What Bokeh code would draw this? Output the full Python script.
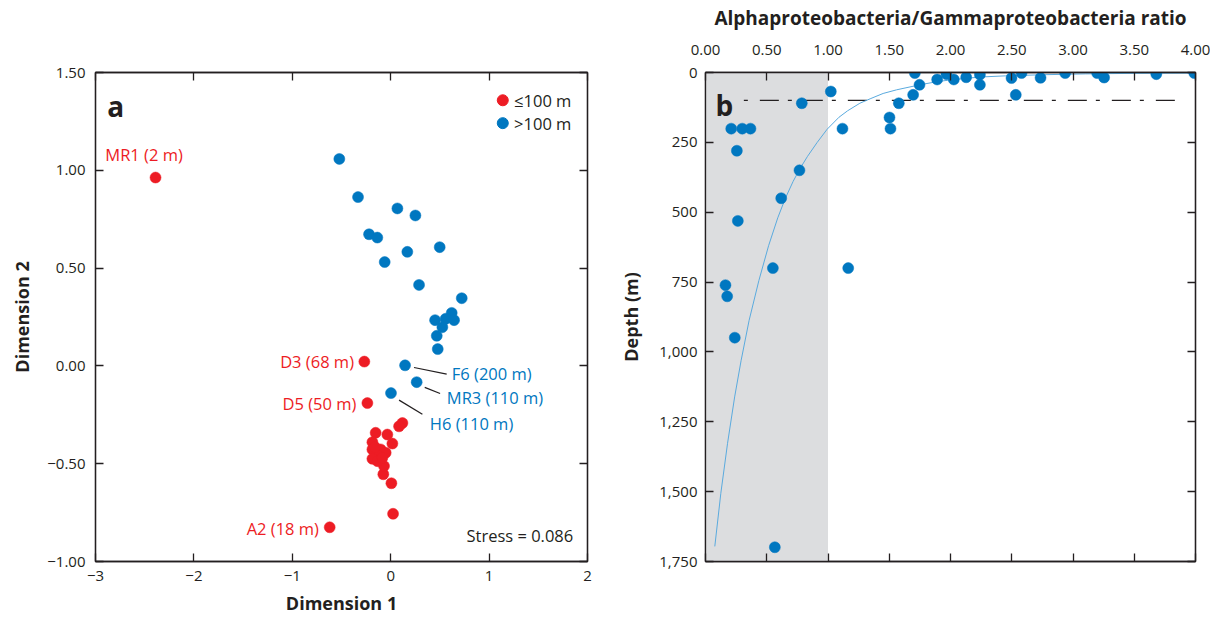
from bokeh.plotting import figure
from bokeh.models import Range1d, LinearAxis, FixedTicker, BoxAnnotation
from bokeh.layouts import row
from bokeh.embed import file_html
from bokeh.resources import INLINE
from bokeh.core.properties import value

FONT = "Open Sans"
RED = "#ed1c24"
BLUE = "#0077c0"
INK = "#231f20"
FIT = "#5aaade"
SHADE = "#dcdddf"

# ---------------- Panel a: NMDS ordination ----------------
shallow_dim1 = [-2.39, -0.268, -0.237, -0.62, 0.024, 0.007, -0.075, -0.068, 0.119, 0.085,
                -0.153, -0.034, 0.017, -0.186, -0.186, -0.102, -0.051, -0.119, -0.186,
                -0.135, -0.085, -0.160]
shallow_dim2 = [0.963, 0.022, -0.19, -0.825, -0.756, -0.600, -0.554, -0.512, -0.292, -0.309,
                -0.342, -0.351, -0.397, -0.390, -0.427, -0.427, -0.444, -0.461, -0.475,
                -0.487, -0.470, -0.415]
deep_dim1 = [-0.522, -0.332, 0.068, 0.251, -0.22, -0.136, 0.498, 0.169, -0.061, 0.288,
             0.722, 0.62, 0.559, 0.644, 0.451, 0.525, 0.468, 0.478, 0.146, 0.264, 0.003]
deep_dim2 = [1.058, 0.863, 0.805, 0.769, 0.673, 0.656, 0.607, 0.583, 0.531, 0.414,
             0.346, 0.271, 0.241, 0.234, 0.234, 0.198, 0.154, 0.086, 0.003, -0.083, -0.139]

red_lab_text = ["D3 (68 m)", "D5 (50 m)", "A2 (18 m)"]
red_lab_x = [-0.373, -0.349, -0.729]
red_lab_y = [0.024, -0.19, -0.829]
mr1_text = ["MR1 (2 m)"]
mr1_x = [-2.90]
mr1_y = [1.082]
blue_lab_text = ["F6 (200 m)", "MR3 (110 m)", "H6 (110 m)"]
blue_lab_x = [0.621, 0.570, 0.397]
blue_lab_y = [-0.041, -0.163, -0.292]
lead_x0 = [0.237, 0.346, 0.085]
lead_y0 = [-0.008, -0.110, -0.175]
lead_x1 = [0.569, 0.502, 0.322]
lead_y1 = [-0.042, -0.141, -0.247]

a_xticks = [-3, -2, -1, 0, 1, 2]
a_xlabels = ["\u22123", "\u22122", "\u22121", "0", "1", "2"]
a_yticks = [-1.0, -0.5, 0.0, 0.5, 1.0, 1.5]
a_ylabels = ["\u22121.00", "\u22120.50", "0.00", "0.50", "1.00", "1.50"]

# ---------------- Panel b: ratio vs depth ----------------
ratio = [0.21, 0.30, 0.367, 0.256, 0.264, 0.163, 0.177, 0.239, 0.566, 0.55, 0.618, 0.767,
         0.786, 1.023, 1.118, 1.165, 1.502, 1.51, 1.578, 1.695, 1.709, 1.747, 1.891, 1.967,
         2.027, 2.128, 2.24, 2.24, 2.498, 2.533, 2.58, 2.735, 2.936, 3.197, 3.254, 3.68, 3.99]
depth = [201, 201, 201, 280, 531, 761, 801, 949, 1699, 700, 450, 350,
         110, 68, 201, 700, 161, 201, 110, 80, 2, 44, 25, 6,
         25, 17, 8, 44, 20, 80, 2, 19, 2, 2, 18, 6, 2]
fit_ratio = [0.076, 0.125, 0.180, 0.238, 0.291, 0.356, 0.436, 0.515, 0.590, 0.652, 0.715,
             0.770, 0.833, 0.912, 0.993, 1.09, 1.16, 1.26, 1.35, 1.45, 1.56, 1.75, 1.90,
             2.05, 2.25, 2.45, 2.75, 3.10, 3.50, 3.99]
fit_depth = [1696, 1506, 1327, 1161, 1030, 887, 744, 620, 520, 450, 390,
             345, 300, 250, 203, 160, 137, 110, 93, 75, 62, 44, 32,
             24, 16, 12, 8, 5, 3, 2]
shade_ratio = [0.0, 1.0]
cutoff_ratio = [0.313, 3.90]
cutoff_depth = [100, 100]

b_xticks = [0, 0.5, 1, 1.5, 2, 2.5, 3, 3.5, 4]
b_xlabels = ["0.00", "0.50", "1.00", "1.50", "2.00", "2.50", "3.00", "3.50", "4.00"]
b_yticks = [0, 250, 500, 750, 1000, 1250, 1500, 1750]
b_ylabels = ["0", "250", "500", "750", "1,000", "1,250", "1,500", "1,750"]


def style_axis(ax, ticks, labels, show_labels=True):
    ax.ticker = FixedTicker(ticks=ticks)
    ax.axis_line_color = INK
    ax.axis_line_width = 1.3
    ax.major_tick_in = 8
    ax.major_tick_out = 0
    ax.major_tick_line_color = INK
    ax.major_tick_line_width = 1.3
    ax.minor_tick_line_color = None
    ax.major_label_text_font = FONT
    ax.major_label_text_font_size = "15px"
    ax.major_label_text_color = INK
    ax.axis_label_text_font = FONT
    ax.axis_label_text_font_size = "18px"
    ax.axis_label_text_font_style = "bold"
    ax.axis_label_text_color = INK
    if show_labels:
        ax.major_label_overrides = {t: l for t, l in zip(ticks, labels)}
    else:
        ax.major_label_overrides = {t: "" for t in ticks}
        ax.major_label_standoff = 0
        ax.major_label_text_font_size = "0px"


H = 618
LAB = "16.5px"

# ---------- figure a ----------
pa = figure(width=600, height=H, output_backend="svg", toolbar_location=None,
            x_range=Range1d(-3, 2), y_range=Range1d(-1, 1.5),
            min_border_left=95, min_border_right=13, min_border_top=71, min_border_bottom=56,
            x_axis_location=None, y_axis_location=None)
pa.xgrid.visible = False
pa.ygrid.visible = False
pa.outline_line_color = INK
pa.outline_line_width = 1.3
pa.background_fill_color = "white"
pa.border_fill_color = "white"

ax_b = LinearAxis(axis_label="Dimension 1")
style_axis(ax_b, a_xticks, a_xlabels)
ax_b.major_label_standoff = 9
ax_b.axis_label_standoff = 7
pa.add_layout(ax_b, "below")
ax_l = LinearAxis(axis_label="Dimension 2")
style_axis(ax_l, a_yticks, a_ylabels)
ax_l.major_label_standoff = 10
ax_l.axis_label_standoff = 10
pa.add_layout(ax_l, "left")
ax_t = LinearAxis()
style_axis(ax_t, a_xticks, a_xlabels, show_labels=False)
pa.add_layout(ax_t, "above")
ax_r = LinearAxis()
style_axis(ax_r, a_yticks, a_ylabels, show_labels=False)
pa.add_layout(ax_r, "right")

pa.segment(x0=lead_x0, y0=lead_y0, x1=lead_x1, y1=lead_y1, line_color=INK, line_width=1.2)
pa.scatter(shallow_dim1, shallow_dim2, size=11, fill_color=RED, line_color=RED, line_width=0.5)
pa.scatter(deep_dim1, deep_dim2, size=11, fill_color=BLUE, line_color=BLUE, line_width=0.5)

pa.text(x=red_lab_x, y=red_lab_y, text=red_lab_text, text_font=value(FONT), text_font_size=LAB,
        text_align="right", text_baseline="middle", text_color=RED)
pa.text(x=mr1_x, y=mr1_y, text=mr1_text, text_font=value(FONT), text_font_size=LAB,
        text_align="left", text_baseline="middle", text_color=RED)
pa.text(x=blue_lab_x, y=blue_lab_y, text=blue_lab_text, text_font=value(FONT), text_font_size=LAB,
        text_align="left", text_baseline="middle", text_color=BLUE)

pa.scatter([1.139], [1.358], size=11, fill_color=RED, line_color=RED)
pa.scatter([1.139], [1.241], size=11, fill_color=BLUE, line_color=BLUE)
pa.text(x=[1.254, 1.254], y=[1.358, 1.241], text=["\u2264100 m", ">100 m"], text_font=value(FONT),
        text_font_size=LAB, text_align="left", text_baseline="middle", text_color=INK)
pa.text(x=[1.855], y=[-0.865], text=["Stress = 0.086"], text_font=value(FONT), text_font_size=LAB,
        text_align="right", text_baseline="middle", text_color=INK)
pa.text(x=[-2.88], y=[1.331], text=["a"], text_font=value(FONT), text_font_size="28px",
        text_font_style="bold", text_align="left", text_baseline="alphabetic", text_color=INK)

# ---------- figure b ----------
pb = figure(width=610, height=H, output_backend="svg", toolbar_location=None,
            x_range=Range1d(0, 4), y_range=Range1d(1750, 0),
            min_border_left=105, min_border_right=15, min_border_top=72, min_border_bottom=57,
            x_axis_location=None, y_axis_location=None)
pb.xgrid.visible = False
pb.ygrid.visible = False
pb.outline_line_color = INK
pb.outline_line_width = 1.3
pb.background_fill_color = "white"
pb.border_fill_color = "white"

bx_t = LinearAxis(axis_label="Alphaproteobacteria/Gammaproteobacteria ratio")
style_axis(bx_t, b_xticks, b_xlabels)
bx_t.axis_label_text_font_size = "19px"
bx_t.major_label_standoff = 18
bx_t.axis_label_standoff = 11
pb.add_layout(bx_t, "above")
by_l = LinearAxis(axis_label="Depth (m)")
style_axis(by_l, b_yticks, b_ylabels)
by_l.major_label_standoff = 8
by_l.axis_label_standoff = 13
pb.add_layout(by_l, "left")
bx_b = LinearAxis()
style_axis(bx_b, b_xticks, b_xlabels, show_labels=False)
pb.add_layout(bx_b, "below")
by_r = LinearAxis()
style_axis(by_r, b_yticks, b_ylabels, show_labels=False)
pb.add_layout(by_r, "right")

pb.add_layout(BoxAnnotation(left=shade_ratio[0], right=shade_ratio[1], fill_color=SHADE,
                            fill_alpha=1.0, line_alpha=0, level="underlay"))
pb.line(cutoff_ratio, cutoff_depth, line_color=INK, line_width=1.2, line_dash="19 9 4 12",
        line_dash_offset=28)
pb.line(fit_ratio, fit_depth, line_color=FIT, line_width=1.0)
pb.scatter(ratio, depth, size=11, fill_color=BLUE, line_color=BLUE, line_width=0.5)
pb.text(x=[0.082], y=[116], text=["b"], text_font=value(FONT), text_font_size="28px",
        text_font_style="bold", text_align="left", text_baseline="alphabetic", text_color=INK)

layout = row(pa, pb)
open("out.html", "w").write(file_html(layout, INLINE))
